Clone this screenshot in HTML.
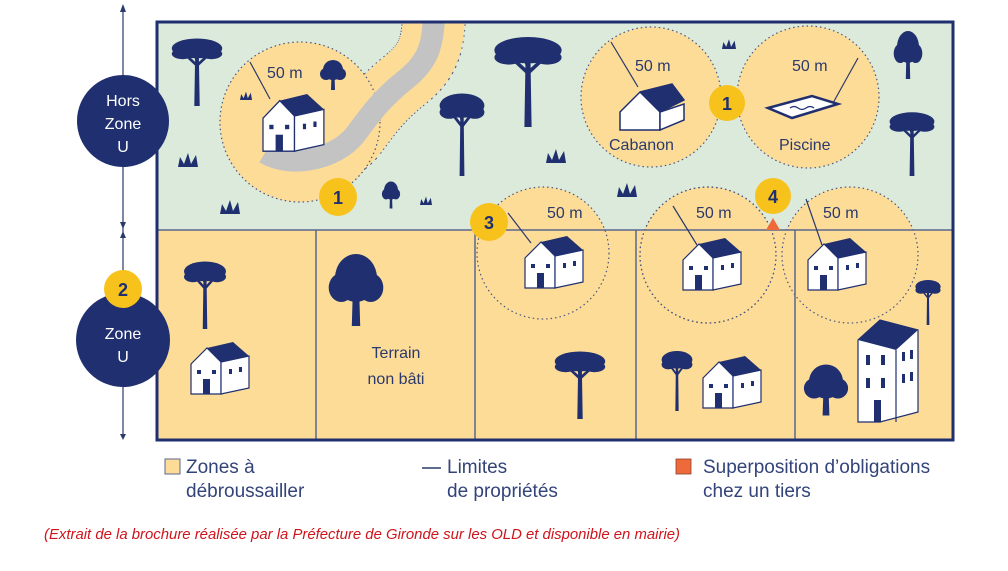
<!DOCTYPE html>
<html><head><meta charset="utf-8"><style>
html,body{margin:0;padding:0;background:#fff;}
svg{display:block;}
.t{font-family:"Liberation Sans",sans-serif;fill:#2b3a6b;}
.n{font-family:"Liberation Sans Narrow","Liberation Sans",sans-serif;fill:#33447a;}
</style></head><body>
<svg width="1008" height="571" viewBox="0 0 1008 571" xmlns="http://www.w3.org/2000/svg">
<defs>
<g id="house">
 <path d="M0,22 L16,6 L30,20 L30,52 L0,52 Z" fill="#fff" stroke="#1f2f70" stroke-width="1.2"/>
 <path d="M30,20 L58,14 L58,46 L30,52 Z" fill="#fff" stroke="#1f2f70" stroke-width="1.2"/>
 <path d="M16,6 L42,0 L58,14 L30,20 Z" fill="#1f2f70"/>
 <rect x="12" y="37" width="7" height="15" fill="#1f2f70"/>
 <rect x="6" y="28" width="4" height="4" fill="#1f2f70"/>
 <rect x="21" y="28" width="4" height="4" fill="#1f2f70"/>
 <rect x="38" y="27" width="3" height="5" fill="#1f2f70"/>
 <rect x="48" y="25" width="3" height="5" fill="#1f2f70"/>
</g>
<g id="pine">
 <path d="M-2,0 L2,0 L3,60 L-3,60 Z" fill="#1f2f70"/>
 <path d="M0,15 L-14,2 M0,15 L14,2 M0,10 L-4,-2" stroke="#1f2f70" stroke-width="3"/>
 <ellipse cx="0" cy="-4" rx="28" ry="11" fill="#1f2f70"/>
 <ellipse cx="-16" cy="2" rx="12" ry="6" fill="#1f2f70"/>
 <ellipse cx="16" cy="2" rx="12" ry="6" fill="#1f2f70"/>
</g>
<g id="round">
 <path d="M-3,0 L3,0 L4,30 L-4,30 Z" fill="#1f2f70"/>
 <circle cx="0" cy="-10" r="20" fill="#1f2f70"/>
 <circle cx="-14" cy="-2" r="12" fill="#1f2f70"/>
 <circle cx="14" cy="-2" r="12" fill="#1f2f70"/>
</g>
<g id="grass">
 <path d="M-10,0 L-8,-10 L-4,-3 L0,-14 L3,-3 L8,-12 L10,0 Z" fill="#1f2f70"/>
</g>
<clipPath id="box"><rect x="157" y="22" width="796" height="418"/></clipPath>
</defs>

<line x1="123" y1="6" x2="123" y2="436" stroke="#2b3a6b" stroke-width="1.2"/>
<path d="M120,12 L123,4 L126,12 Z M120,434 L123,440 L126,434 Z M120,222 L123,229 L126,222 Z M120,238 L123,231 L126,238 Z" fill="#2b3a6b"/>

<g clip-path="url(#box)">
 <rect x="157" y="22" width="796" height="208" fill="#dbeada"/>
 <rect x="157" y="230" width="796" height="210" fill="#fddc98"/>
 <path d="M265,153 C290,168 335,160 355,135 C370,115 380,100 405,80 C428,62 434,45 434,10" fill="none" stroke="#4a5580" stroke-width="64" stroke-dasharray="1.5 3"/>
 <path d="M265,153 C290,168 335,160 355,135 C370,115 380,100 405,80 C428,62 434,45 434,10" fill="none" stroke="#fddc98" stroke-width="62"/>
 <circle cx="300" cy="122" r="80" fill="#fddc98" stroke="#4a5580" stroke-width="1.2" stroke-dasharray="1.5 3"/>
 <path d="M265,153 C290,168 335,160 355,135 C370,115 380,100 405,80 C428,62 434,45 434,10" fill="none" stroke="#c3c3c3" stroke-width="22"/>
 <circle cx="651" cy="97" r="70" fill="#fddc98" stroke="#4a5580" stroke-width="1.2" stroke-dasharray="1.5 3"/>
 <circle cx="808" cy="97" r="71" fill="#fddc98" stroke="#4a5580" stroke-width="1.2" stroke-dasharray="1.5 3"/>
 <circle cx="543" cy="253" r="66" fill="#fddc98" stroke="#4a5580" stroke-width="1.2" stroke-dasharray="1.5 3"/>
 <circle cx="708" cy="255" r="68" fill="#fddc98" stroke="#4a5580" stroke-width="1.2" stroke-dasharray="1.5 3"/>
 <circle cx="850" cy="255" r="68" fill="#fddc98" stroke="#4a5580" stroke-width="1.2" stroke-dasharray="1.5 3"/>
 <circle cx="708" cy="255" r="68" fill="none" stroke="#4a5580" stroke-width="1.2" stroke-dasharray="1.5 3"/>
 <line x1="157" y1="230" x2="953" y2="230" stroke="#5a6690" stroke-width="1.5"/>
 <line x1="316" y1="230" x2="316" y2="440" stroke="#5a6690" stroke-width="1.5"/>
 <line x1="475" y1="230" x2="475" y2="440" stroke="#5a6690" stroke-width="1.5"/>
 <line x1="636" y1="230" x2="636" y2="440" stroke="#5a6690" stroke-width="1.5"/>
 <line x1="795" y1="230" x2="795" y2="440" stroke="#5a6690" stroke-width="1.5"/>
</g>
<rect x="157" y="22" width="796" height="418" fill="none" stroke="#1f2f70" stroke-width="3"/>
<path d="M766,230 L773,218 L780,230 Z" fill="#ee6a3a"/>

<use href="#pine" x="197" y="52" transform="translate(197,52) scale(0.9) translate(-197,-52)"/>
<use href="#round" x="333" y="75" transform="translate(333,75) scale(0.5) translate(-333,-75)"/>
<use href="#pine" x="528" y="55" transform="translate(528,55) scale(1.2) translate(-528,-55)"/>
<use href="#pine" x="462" y="110" transform="translate(462,110) scale(0.8,1.1) translate(-462,-110)"/>
<use href="#round" x="908" y="55" transform="translate(908,55) scale(0.55,0.8) translate(-908,-55)"/>
<use href="#pine" x="912" y="125" transform="translate(912,125) scale(0.8,0.85) translate(-912,-125)"/>
<use href="#round" x="391" y="195" transform="translate(391,195) scale(0.35,0.45) translate(-391,-195)"/>
<use href="#grass" x="188" y="167"/><use href="#grass" x="246" y="100" transform="translate(246,100) scale(0.6) translate(-246,-100)"/>
<use href="#grass" x="230" y="214"/><use href="#grass" x="556" y="163"/>
<use href="#grass" x="627" y="197"/><use href="#grass" x="729" y="49" transform="translate(729,49) scale(0.7) translate(-729,-49)"/>
<use href="#grass" x="426" y="205" transform="translate(426,205) scale(0.6) translate(-426,-205)"/>

<use href="#pine" x="205" y="275" transform="translate(205,275) scale(0.75,0.9) translate(-205,-275)"/>
<use href="#round" x="356" y="290" transform="translate(356,290) scale(1.05,1.2) translate(-356,-290)"/>
<use href="#pine" x="580" y="365" transform="translate(580,365) scale(0.9) translate(-580,-365)"/>
<use href="#pine" x="677" y="363" transform="translate(677,363) scale(0.55,0.8) translate(-677,-363)"/>
<use href="#pine" x="928" y="289" transform="translate(928,289) scale(0.45,0.6) translate(-928,-289)"/>
<use href="#round" x="826" y="390" transform="translate(826,390) scale(0.85) translate(-826,-390)"/>

<use href="#house" transform="translate(263,94) scale(1.05,1.1)"/>
<use href="#house" transform="translate(525,236)"/>
<use href="#house" transform="translate(683,238)"/>
<use href="#house" transform="translate(808,238)"/>
<use href="#house" transform="translate(191,342)"/>
<use href="#house" transform="translate(703,356)"/>
<path d="M620,112 L640,92 L660,112 L660,130 L620,130 Z M640,92 L672,84 L684,100 L660,112" fill="#fff" stroke="#1f2f70" stroke-width="1.5"/>
<path d="M640,92 L672,84 L684,100 L660,112 Z" fill="#1f2f70"/>
<path d="M660,112 L684,104 L684,120 L660,130 Z" fill="#fff" stroke="#1f2f70" stroke-width="1.5"/>
<path d="M768,108 L812,96 L838,104 L792,118 Z" fill="#fff" stroke="#1f2f70" stroke-width="2.5"/>
<path d="M790,108 q4,-3 8,0 t8,0 t8,0" fill="none" stroke="#1f2f70" stroke-width="1.2"/>
<path d="M858,340 L880,320 L918,330 L918,412 L880,422 L858,422 Z" fill="#fff" stroke="#1f2f70" stroke-width="1.2"/>
<path d="M858,340 L880,320 L918,330 L896,350 Z" fill="#1f2f70"/>
<line x1="896" y1="350" x2="896" y2="422" stroke="#1f2f70" stroke-width="1.2"/>
<g fill="#1f2f70"><rect x="866" y="355" width="4" height="10"/><rect x="881" y="355" width="4" height="10"/><rect x="866" y="378" width="4" height="10"/><rect x="881" y="378" width="4" height="10"/><rect x="874" y="400" width="7" height="22"/><rect x="902" y="352" width="3" height="9"/><rect x="910" y="350" width="3" height="9"/><rect x="902" y="374" width="3" height="9"/><rect x="910" y="372" width="3" height="9"/></g>

<g stroke="#2b3a6b" stroke-width="1.2">
 <line x1="250" y1="62" x2="270" y2="99"/><line x1="611" y1="42" x2="638" y2="87"/>
 <line x1="858" y1="58" x2="833" y2="103"/><line x1="508" y1="213" x2="531" y2="243"/>
 <line x1="673" y1="206" x2="697" y2="245"/><line x1="806" y1="199" x2="822" y2="245"/>
</g>

<g class="t" font-size="16">
 <text x="267" y="78">50 m</text><text x="635" y="71">50 m</text><text x="792" y="71">50 m</text>
 <text x="547" y="218">50 m</text><text x="696" y="218">50 m</text><text x="823" y="218">50 m</text>
 <text x="609" y="150">Cabanon</text><text x="779" y="150">Piscine</text>
 <text x="396" y="358" text-anchor="middle">Terrain</text><text x="396" y="384" text-anchor="middle">non bâti</text>
</g>

<circle cx="123" cy="121" r="46" fill="#1f2f70"/>
<circle cx="123" cy="340" r="47" fill="#1f2f70"/>
<g font-family="Liberation Sans,sans-serif" font-size="16" fill="#fff" text-anchor="middle">
 <text x="123" y="106">Hors</text><text x="123" y="129">Zone</text><text x="123" y="152">U</text>
 <text x="123" y="339">Zone</text><text x="123" y="362">U</text>
</g>

<g fill="#f8c21c"><circle cx="123" cy="289" r="19"/><circle cx="338" cy="197" r="19"/><circle cx="727" cy="103" r="18"/><circle cx="489" cy="222" r="19"/><circle cx="773" cy="196" r="18"/></g>
<g font-family="Liberation Sans,sans-serif" font-weight="bold" font-size="18" fill="#1f2f70" text-anchor="middle">
 <text x="123" y="296">2</text><text x="338" y="204">1</text><text x="727" y="110">1</text><text x="489" y="229">3</text><text x="773" y="203">4</text>
</g>

<rect x="165" y="459" width="15" height="15" fill="#fddc98" stroke="#5a6690" stroke-width="1"/>
<line x1="422" y1="468" x2="441" y2="468" stroke="#2b3a6b" stroke-width="1.5"/>
<rect x="676" y="459" width="15" height="15" fill="#ee6a3a" stroke="#8a4030" stroke-width="0.8"/>
<g class="n" font-size="19">
 <text x="186" y="473">Zones à</text><text x="186" y="497">débroussailler</text>
 <text x="447" y="473">Limites</text><text x="447" y="497">de propriétés</text>
 <text x="703" y="473">Superposition d’obligations</text><text x="703" y="497">chez un tiers</text>
</g>
<text x="44" y="539" font-family="Liberation Sans Narrow,Liberation Sans,sans-serif" font-style="italic" font-size="15" fill="#d0141c" textLength="636" lengthAdjust="spacingAndGlyphs">(Extrait de la brochure réalisée par la Préfecture de Gironde sur les OLD et disponible en mairie)</text>
</svg>
</body></html>
